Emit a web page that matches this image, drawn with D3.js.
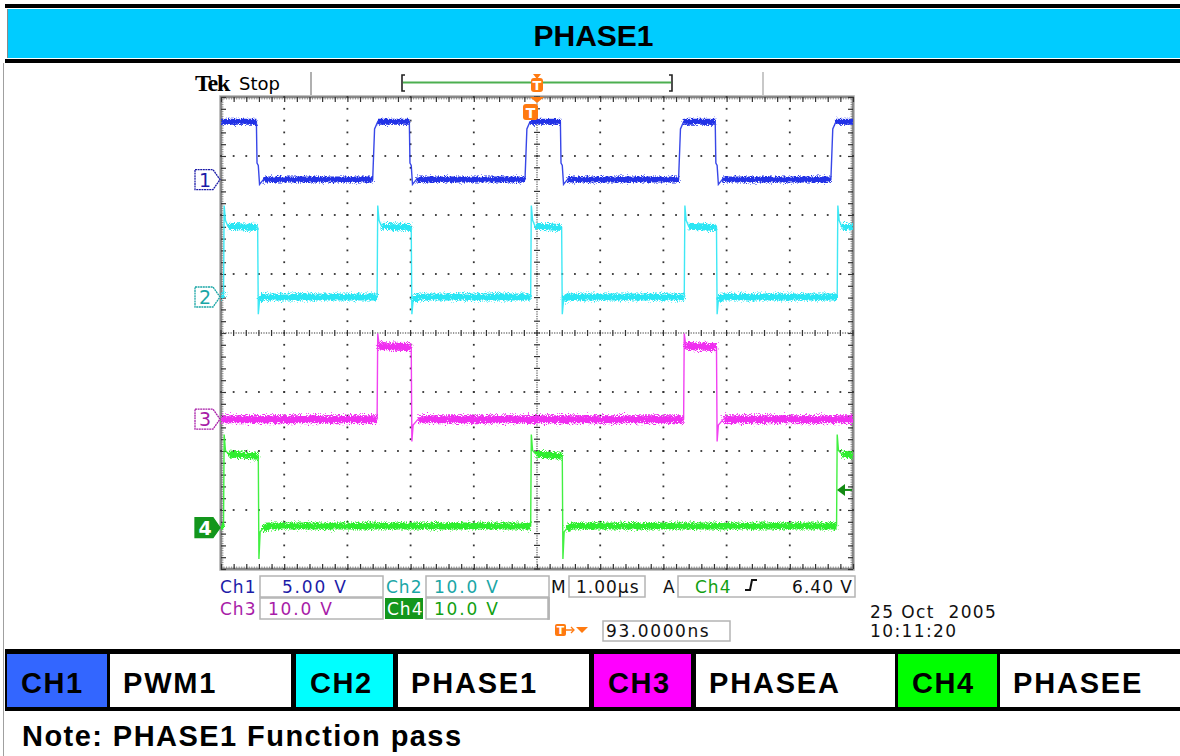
<!DOCTYPE html>
<html><head><meta charset="utf-8">
<script src="https://cdn.jsdelivr.net/npm/d3@7"></script>
<style>
html,body{margin:0;padding:0;background:#fff;}
svg{display:block;}
</style></head><body>
<svg id="c" width="1180" height="756"></svg>
<script>
// ================= DATA =================
const title = "PHASE1";
const channels = ["Ch1", "Ch2", "Ch3", "Ch4"];
const voltsPerDiv = [5, 10, 10, 10];
const groundOffsetDiv = [2.6, 0.61, -1.46, -3.3];
const readoutValues = ["5.00 V", "10.0 V", "10.0 V", "10.0 V"];
const timebase = "1.00µs";
const triggerSource = "Ch4";
const triggerLevelV = 6.40;
const triggerLevelText = "6.40 V";
const triggerOffsetText = "93.0000ns";
const dateText = "25 Oct  2005";
const clockText = "10:11:20";
const legendCodes = ["CH1", "CH2", "CH3", "CH4"];
const legendNames = ["PWM1", "PHASE1", "PHASEA", "PHASEE"];
const noteText = "Note: PHASE1 Function pass";

// time in µs (trigger at 0), volts
const ch1T = [-5.00, -4.44, -4.43, -4.41, -4.39, -4.33, -2.60, -2.57, -2.52, -2.02, -2.01, -1.99, -1.97, -1.91, -0.19, -0.16, -0.11, 0.37, 0.38, 0.40, 0.42, 0.48, 2.24, 2.27, 2.32, 2.82, 2.83, 2.85, 2.87, 2.93, 4.65, 4.68, 4.73, 5.00];
const ch1V = [4.9, 4.9, 1.4, 1.2, -0.4, 0.0, 0.0, 4.3, 4.9, 4.9, 1.4, 1.2, -0.4, 0.0, 0.0, 4.3, 4.9, 4.9, 1.4, 1.2, -0.4, 0.0, 0.0, 4.3, 4.9, 4.9, 1.4, 1.2, -0.4, 0.0, 0.0, 4.3, 4.9, 4.9];

const ch2T = [-5.00, -4.96, -4.95, -4.93, -4.89, -4.42, -4.41, -4.39, -4.33, -2.53, -2.52, -2.50, -2.46, -1.99, -1.98, -1.96, -1.90, -0.10, -0.09, -0.07, -0.03, 0.39, 0.40, 0.42, 0.48, 2.33, 2.34, 2.36, 2.40, 2.84, 2.85, 2.87, 2.93, 4.75, 4.76, 4.78, 4.82, 5.00];
const ch2V = [0.3, 0.0, 15.5, 13.0, 12.0, 11.8, -2.9, -0.6, 0.0, 0.0, 15.5, 13.0, 12.0, 11.8, -2.9, -0.6, 0.0, 0.0, 15.5, 13.0, 12.0, 11.8, -2.9, -0.6, 0.0, 0.0, 15.5, 13.0, 12.0, 11.8, -2.9, -0.6, 0.0, 0.0, 15.5, 13.0, 12.0, 11.8];

const ch3T = [-5.00, -2.53, -2.52, -2.50, -2.46, -1.99, -1.98, -1.96, -1.88, 2.32, 2.33, 2.35, 2.39, 2.84, 2.85, 2.87, 2.95, 5.00];
const ch3V = [0.0, 0.0, 14.5, 12.8, 12.4, 12.2, -3.8, -1.0, 0.0, 0.0, 14.5, 12.8, 12.4, 12.2, -3.8, -1.0, 0.0, 0.0];

const ch4T = [-5.00, -4.96, -4.95, -4.93, -4.88, -4.41, -4.40, -4.38, -4.34, -4.25, -0.10, -0.09, -0.07, -0.02, 0.40, 0.41, 0.43, 0.47, 0.56, 4.74, 4.75, 4.77, 4.82, 5.00];
const ch4V = [0.3, 0.3, 15.8, 13.1, 12.5, 12.1, -5.3, -0.7, -0.2, 0.3, 0.3, 15.8, 13.1, 12.5, 12.1, -5.3, -0.7, -0.2, 0.3, 0.3, 15.8, 13.1, 12.5, 12.3];

// ================= DRAW =================
const svg = d3.select("#c");
const W = 1180;
const defs = svg.append("defs");

const traceColors = ["#2233e6", "#2ae6f4", "#f02ef0", "#2eee2e"];
const labelColors = ["#1c1ca8", "#1aa6a6", "#a81ca8", "#12a012"];
const legendColors = ["#3366ff", "#00ffff", "#ff00ff", "#00ff00"];

// --- header ---
svg.append("rect").attr("x", 5).attr("y", 4).attr("width", W - 5).attr("height", 4).attr("fill", "#000");
svg.append("rect").attr("x", 7).attr("y", 9).attr("width", W - 7).attr("height", 49).attr("fill", "#00ccff");
svg.append("line").attr("x1", 7.5).attr("x2", 7.5).attr("y1", 9).attr("y2", 58).attr("stroke", "#8a8a8a");
svg.append("rect").attr("x", 5).attr("y", 59).attr("width", W - 5).attr("height", 4).attr("fill", "#000");
svg.append("line").attr("x1", 3.5).attr("x2", 3.5).attr("y1", 63).attr("y2", 756).attr("stroke", "#a0a0a0");
svg.append("text").attr("x", (7 + W) / 2).attr("y", 46).attr("text-anchor", "middle")
  .attr("font-family", "Liberation Sans, Arial, sans-serif").attr("font-weight", "bold")
  .attr("font-size", 30).text(title);

// --- scope geometry ---
const x = d3.scaleLinear().domain([-5, 5]).range([221, 853]);
const y = d3.scaleLinear().domain([-4, 4]).range([569, 97]);
const g = svg.append("g");

// top status
g.append("text").attr("x", 195).attr("y", 91).attr("font-family", "Liberation Serif, DejaVu Serif, serif")
  .attr("font-weight", "bold").attr("font-size", 24).attr("letter-spacing", -1.2).text("Tek");
g.append("text").attr("x", 239).attr("y", 90).attr("font-family", "DejaVu Sans, sans-serif")
  .attr("font-size", 18).text("Stop");
g.append("line").attr("x1", 311).attr("x2", 311).attr("y1", 72).attr("y2", 96).attr("stroke", "#b0b0b0").attr("stroke-width", 2);
g.append("line").attr("x1", 763).attr("x2", 763).attr("y1", 72).attr("y2", 96).attr("stroke", "#c8c8c8").attr("stroke-width", 2);
// record bracket
g.append("line").attr("x1", 403).attr("x2", 671).attr("y1", 82.5).attr("y2", 82.5).attr("stroke", "#4caf50").attr("stroke-width", 2);
g.append("path").attr("d", "M405,75 H402 V91 H405").attr("fill", "none").attr("stroke", "#222").attr("stroke-width", 1.6);
g.append("path").attr("d", "M669,75 H672 V91 H669").attr("fill", "none").attr("stroke", "#222").attr("stroke-width", 1.6);
function tBadge(cx, top, w, h, fs) {
  g.append("rect").attr("x", cx - w / 2).attr("y", top).attr("width", w).attr("height", h).attr("rx", 3).attr("fill", "#ff7a10");
  g.append("text").attr("x", cx).attr("y", top + h - 2.5).attr("text-anchor", "middle").attr("fill", "#fff")
    .attr("font-family", "DejaVu Sans, sans-serif").attr("font-weight", "bold").attr("font-size", fs).text("T");
}
g.append("path").attr("d", `M${x(0) - 4},74 H${x(0) + 4} L${x(0)},79 Z`).attr("fill", "#ff7a10");
tBadge(x(0), 78, 12, 14, 13);

// graticule frame
g.append("rect").attr("x", x(-5) - 1).attr("y", y(4) - 1).attr("width", x(5) - x(-5) + 2).attr("height", y(-4) - y(4) + 2)
  .attr("fill", "none").attr("stroke", "#d4d4d4").attr("stroke-width", 2);
g.append("rect").attr("x", x(-5)).attr("y", y(4)).attr("width", x(5) - x(-5)).attr("height", y(-4) - y(4))
  .attr("fill", "none").attr("stroke", "#8a8a8a").attr("stroke-width", 2.5);

const minorX = d3.range(-5, 5.0001, 0.2);
const minorY = d3.range(-4, 4.0001, 0.2);
const fineX = d3.range(-5, 5.0001, 0.04);
const fineY = d3.range(-4, 4.0001, 0.04);
function styleAxis(sel) { sel.select(".domain").remove(); sel.selectAll("text").remove(); }
[[d3.axisTop(x), `translate(0,${y(4)})`, fineX],
 [d3.axisBottom(x), `translate(0,${y(-4)})`, fineX],
 [d3.axisLeft(y), `translate(${x(-5)},0)`, fineY],
 [d3.axisRight(y), `translate(${x(5)},0)`, fineY]].forEach(([ax, tr, vals]) => {
  g.append("g").attr("transform", tr).call(ax.tickValues(vals).tickSize(-2.5).tickFormat("")).call(styleAxis)
    .selectAll("line").attr("stroke", "#777").attr("stroke-width", 0.8);
});
[[d3.axisTop(x), `translate(0,${y(4)})`, minorX],
 [d3.axisBottom(x), `translate(0,${y(-4)})`, minorX],
 [d3.axisLeft(y), `translate(${x(-5)},0)`, minorY],
 [d3.axisRight(y), `translate(${x(5)},0)`, minorY]].forEach(([ax, tr, vals]) => {
  g.append("g").attr("transform", tr).call(ax.tickValues(vals).tickSize(-5).tickFormat("")).call(styleAxis)
    .selectAll("line").attr("stroke", "#333").attr("stroke-width", 1.2);
});

// dotted major grid lines
const majorX = d3.range(-4, 5, 1).filter(d => d !== 0);
const majorY = d3.range(-3, 4, 1).filter(d => d !== 0);
const dots = [];
majorX.forEach(xv => minorY.forEach(yv => dots.push([xv, yv])));
majorY.forEach(yv => minorX.forEach(xv => dots.push([xv, yv])));
g.append("g").selectAll("rect").data(dots).join("rect")
  .attr("x", d => x(d[0]) - 0.9).attr("y", d => y(d[1]) - 0.9).attr("width", 1.8).attr("height", 1.8).attr("fill", "#333");

// center crosshair
g.append("g").selectAll("rect").data(fineX).join("rect")
  .attr("x", d => x(d) - 0.6).attr("y", y(0) - 0.6).attr("width", 1.2).attr("height", 1.2).attr("fill", "#555");
g.append("g").selectAll("rect").data(fineY).join("rect")
  .attr("x", x(0) - 0.6).attr("y", d => y(d) - 0.6).attr("width", 1.2).attr("height", 1.2).attr("fill", "#555");
g.append("g").selectAll("line").data(minorX).join("line")
  .attr("x1", d => x(d)).attr("x2", d => x(d)).attr("y1", y(0) - 3).attr("y2", y(0) + 3).attr("stroke", "#333").attr("stroke-width", 1.2);
g.append("g").selectAll("line").data(minorY).join("line")
  .attr("y1", d => y(d)).attr("y2", d => y(d)).attr("x1", x(0) - 3).attr("x2", x(0) + 3).attr("stroke", "#333").attr("stroke-width", 1.2);

// --- noise filters (trace texture) ---
const bandWidth = [6, 7, 8, 7];
const jitter = [6, 8, 9, 8];
[3, 7, 11, 17].forEach((seed, i) => {
  const f = defs.append("filter").attr("id", "nz" + i).attr("filterUnits", "userSpaceOnUse")
    .attr("x", 200).attr("y", 80).attr("width", 700).attr("height", 520);
  f.append("feTurbulence").attr("type", "fractalNoise").attr("baseFrequency", "1.3 0.9").attr("numOctaves", 2)
    .attr("seed", seed).attr("result", "t");
  f.append("feDisplacementMap").attr("in", "SourceGraphic").attr("in2", "t").attr("scale", jitter[i])
    .attr("xChannelSelector", "R").attr("yChannelSelector", "G");
});

// --- traces ---
const seriesT = [ch1T, ch2T, ch3T, ch4T];
const seriesV = [ch1V, ch2V, ch3V, ch4V];
const lineGen = d3.line();
function toPx(i) {
  return seriesT[i].map((t, k) => [x(t), y(groundOffsetDiv[i] + seriesV[i][k] / voltsPerDiv[i])]);
}
function bandsOf(pts) {
  const out = []; let cur = null;
  for (let k = 0; k < pts.length - 1; k++) {
    const a = pts[k], b = pts[k + 1];
    if (Math.abs(b[1] - a[1]) <= Math.abs(b[0] - a[0])) {
      if (!cur) { cur = [a]; out.push(cur); }
      cur.push(b);
    } else cur = null;
  }
  return out;
}
const clip = defs.append("clipPath").attr("id", "scr");
clip.append("rect").attr("x", x(-5)).attr("y", y(4)).attr("width", x(5) - x(-5)).attr("height", y(-4) - y(4));
const tr = g.append("g").attr("clip-path", "url(#scr)");
[0, 1, 2, 3].forEach(i => {
  const pts = toPx(i);
  tr.append("path").attr("d", lineGen(pts)).attr("fill", "none").attr("stroke", traceColors[i])
    .attr("stroke-width", 1.4).attr("opacity", 0.9);
  const bands = bandsOf(pts);
  const bg = tr.append("g").attr("filter", `url(#nz${i})`);
  bg.selectAll("path").data(bands).join("path").attr("d", d => lineGen(d)).attr("fill", "none")
    .attr("stroke", traceColors[i]).attr("stroke-width", bandWidth[i]).attr("stroke-linejoin", "round");
});

// trigger position marker on graticule top
g.append("path").attr("d", `M${x(0) - 7},${y(4)} H${x(0) + 7} L${x(0)},${y(4) + 6} Z`).attr("fill", "#ff7a10");
tBadge(x(0) - 6.5, y(4) + 7, 15, 16, 14);

// trigger level arrow (Ch4)
const tly = y(groundOffsetDiv[3] + triggerLevelV / voltsPerDiv[3]);
g.append("path").attr("d", `M${x(5) - 16},${tly} l8,-6 v12 Z`).attr("fill", "#138a13");
g.append("line").attr("x1", x(5) - 9).attr("x2", x(5) - 1).attr("y1", tly).attr("y2", tly).attr("stroke", "#138a13").attr("stroke-width", 2);

// channel ground markers
[0, 1, 2, 3].forEach(i => {
  const gy = y(groundOffsetDiv[i]);
  const filled = i === 3;
  g.append("path").attr("d", `M195,${gy - 10} H213 L220,${gy} L213,${gy + 10} H195 Z`)
    .attr("fill", filled ? "#13961c" : "#fff").attr("stroke", filled ? "#13961c" : labelColors[i]).attr("stroke-width", 1.3)
    .attr("stroke-dasharray", filled ? null : "2,0.6");
  g.append("text").attr("x", 205).attr("y", gy + 7).attr("text-anchor", "middle")
    .attr("font-family", "DejaVu Sans, sans-serif").attr("font-size", 19).attr("font-weight", filled ? "bold" : "normal")
    .attr("fill", filled ? "#fff" : labelColors[i]).text(String(i + 1));
});

// --- readouts ---
const rf = "DejaVu Sans, Verdana, sans-serif";
function box(x0, y0, w, h) {
  g.append("rect").attr("x", x0).attr("y", y0).attr("width", w).attr("height", h)
    .attr("fill", "none").attr("stroke", "#b4b4b4").attr("stroke-width", 1.5);
}
function txt(xx, yy, s, col, anchor) {
  return g.append("text").attr("x", xx).attr("y", yy).attr("font-family", rf).attr("font-size", 17)
    .attr("letter-spacing", 1).attr("fill", col).attr("text-anchor", anchor || "start").text(s);
}
const rowY = [576, 598];
const labelX = [220, 386, 220, 386];
const boxX = [260, 426, 260, 426];
const valueX = [282, 434, 268, 434];
[0, 1, 2, 3].forEach(i => {
  const ry = rowY[Math.floor(i / 2)];
  box(boxX[i], ry, 123, 21);
  if (i === 3) {
    g.append("rect").attr("x", 385).attr("y", ry).attr("width", 38).attr("height", 21).attr("fill", "#13961c");
    txt(387, ry + 17, channels[i], "#fff");
  } else txt(labelX[i], ry + 17, channels[i], labelColors[i]);
  txt(valueX[i], ry + 17, readoutValues[i], labelColors[i]).attr("letter-spacing", 1.8);
});
txt(551, 593, "M", "#111");
box(569, 576, 76, 21);
txt(576, 593, timebase, "#111");
txt(663, 593, "A", "#111");
box(678, 576, 177, 21);
txt(695, 593, triggerSource, labelColors[3]);
g.append("path").attr("d", "M745,590 H750 L752,580 H757").attr("fill", "none").attr("stroke", "#111").attr("stroke-width", 2);
txt(853, 593, triggerLevelText, "#111", "end");
box(548, 598, 1, 21);
// trigger offset
g.append("rect").attr("x", 555).attr("y", 624).attr("width", 11).attr("height", 12).attr("rx", 2).attr("fill", "#ff7a10");
g.append("text").attr("x", 560.5).attr("y", 634).attr("text-anchor", "middle").attr("fill", "#fff")
  .attr("font-family", rf).attr("font-weight", "bold").attr("font-size", 11).text("T");
g.append("line").attr("x1", 566).attr("x2", 573).attr("y1", 630).attr("y2", 630).attr("stroke", "#ff7a10").attr("stroke-width", 1.5);
g.append("path").attr("d", "M571,627 L574,630 L571,633").attr("fill", "none").attr("stroke", "#ff7a10").attr("stroke-width", 1.3);
g.append("path").attr("d", "M576,627 H588 L582,633 Z").attr("fill", "#ff7a10");
box(603, 621, 127, 20);
txt(606, 637, triggerOffsetText, "#111").attr("letter-spacing", 1.6);
txt(870, 618, dateText, "#111").style("white-space", "pre").attr("letter-spacing", 1.4);
txt(870, 637, clockText, "#111").attr("letter-spacing", 1.4);

// --- legend row ---
svg.append("rect").attr("x", 5).attr("y", 649).attr("width", W - 5).attr("height", 62).attr("fill", "#000");
const cellEdges = [[7, 107], [110, 291], [296, 393], [398, 589], [594, 691], [696, 895], [898, 997], [1000, 1180]];
const lf = "Liberation Sans, Arial, sans-serif";
legendCodes.forEach((c, i) => {
  const [a0, a1] = cellEdges[2 * i], [b0, b1] = cellEdges[2 * i + 1];
  svg.append("rect").attr("x", a0).attr("y", 654).attr("width", a1 - a0).attr("height", 53).attr("fill", legendColors[i]);
  svg.append("rect").attr("x", b0).attr("y", 654).attr("width", b1 - b0).attr("height", 53).attr("fill", "#fff");
  svg.append("text").attr("x", a0 + 14).attr("y", 693).attr("font-family", lf).attr("font-weight", "bold")
    .attr("font-size", 29).attr("letter-spacing", 1.5).text(c);
  svg.append("text").attr("x", b0 + 13).attr("y", 693).attr("font-family", lf).attr("font-weight", "bold")
    .attr("font-size", 29).attr("letter-spacing", 1.8).text(legendNames[i]);
});
svg.append("text").attr("x", 22).attr("y", 746).attr("font-family", lf).attr("font-weight", "bold")
  .attr("font-size", 29).attr("letter-spacing", 1.45).text(noteText);
</script>
</body></html>
